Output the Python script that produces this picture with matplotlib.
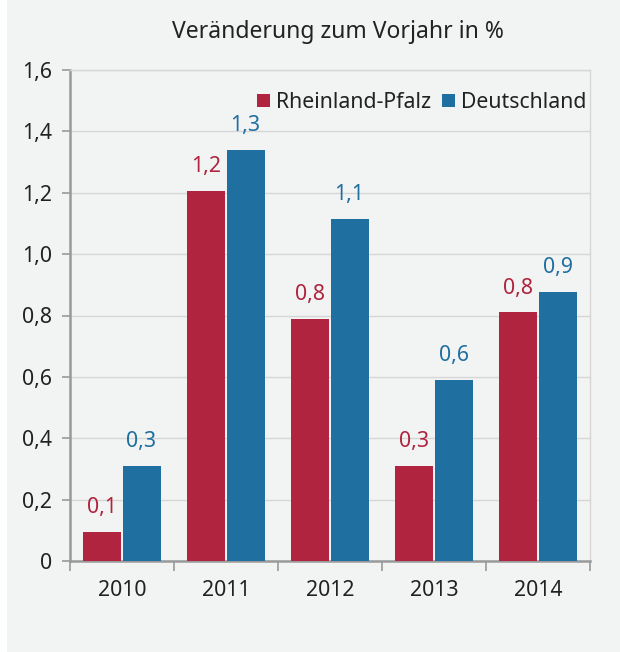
import matplotlib
matplotlib.use("Agg")
import matplotlib.pyplot as plt
from matplotlib.patches import Rectangle
import numpy as np

years = ["2010", "2011", "2012", "2013", "2014"]
rheinland_pfalz = [0.095, 1.205, 0.79, 0.31, 0.81]
deutschland = [0.31, 1.34, 1.115, 0.59, 0.877]
rp_labels = ["0,1", "1,2", "0,8", "0,3", "0,8"]
de_labels = ["0,3", "1,3", "1,1", "0,6", "0,9"]
y_ticks = [0, 0.2, 0.4, 0.6, 0.8, 1.0, 1.2, 1.4, 1.6]
y_tick_labels = ["0", "0,2", "0,4", "0,6", "0,8", "1,0", "1,2", "1,4", "1,6"]
series_names = ["Rheinland-Pfalz", "Deutschland"]
title = "Veränderung zum Vorjahr in %"

RED = "#b0243f"
BLUE = "#1f6fa0"
BG = "#f2f3f3"
TXT = "#222222"

plt.rcParams["font.family"] = ["Noto Sans", "DejaVu Sans"]

fig = plt.figure(figsize=(6.2, 6.52), dpi=100, facecolor="white")
fig.patches.append(Rectangle((7 / 620, 0), 1 - 7 / 620, 1, transform=fig.transFigure,
                             facecolor=BG, edgecolor="none", zorder=-10))
ax = fig.add_axes([70 / 620, 1 - 561 / 652, 520 / 620, 491 / 652])
ax.set_facecolor(BG)

x = np.arange(len(years))
w = 0.365
off = 0.188
ax.bar(x - off, rheinland_pfalz, w, color=RED, label=series_names[0], zorder=3)
ax.bar(x + off, deutschland, w, color=BLUE, label=series_names[1], zorder=3)

FS = 15.3
for xi, v, lab in zip(x, rheinland_pfalz, rp_labels):
    ax.annotate(lab, (xi - off, v), xytext=(0, 10), textcoords="offset points",
                ha="center", va="bottom", color=RED, fontsize=FS)
for xi, v, lab in zip(x, deutschland, de_labels):
    ax.annotate(lab, (xi + off, v), xytext=(0, 10), textcoords="offset points",
                ha="center", va="bottom", color=BLUE, fontsize=FS)

ax.set_xlim(-0.5, len(years) - 0.5)
ax.set_ylim(0, 1.6)
ax.set_yticks(y_ticks)
ax.set_yticklabels(y_tick_labels, fontsize=FS, color=TXT)
ax.set_xticks(x)
ax.set_xticklabels(years, fontsize=FS, color=TXT)
ax.set_xticks(np.arange(len(years) + 1) - 0.5, minor=True)
ax.tick_params(axis="x", which="major", length=0, pad=14)
ax.tick_params(axis="x", which="minor", length=7, width=1.2, color="#999999")
ax.tick_params(axis="y", length=6, width=1.2, color="#999999", pad=7)

ax.grid(axis="y", color="#d6d6d6", linewidth=1, zorder=0)
for s in ["top", "right"]:
    ax.spines[s].set_color("#d6d6d6")
    ax.spines[s].set_linewidth(1)
for s in ["left", "bottom"]:
    ax.spines[s].set_color("#999999")
    ax.spines[s].set_linewidth(1.8)

leg = ax.legend(loc="upper right", bbox_to_anchor=(1.01, 0.973), ncol=2, frameon=False,
                fontsize=FS, handlelength=0.6, handleheight=0.6, handletextpad=0.3,
                columnspacing=0.5, borderaxespad=0)
for t in leg.get_texts():
    t.set_color(TXT)

fig.text(338 / 620, 1 - 32 / 652, title, ha="center", va="center", fontsize=16.5, color=TXT)

fig.savefig("out.png", dpi=100, facecolor=fig.get_facecolor())
